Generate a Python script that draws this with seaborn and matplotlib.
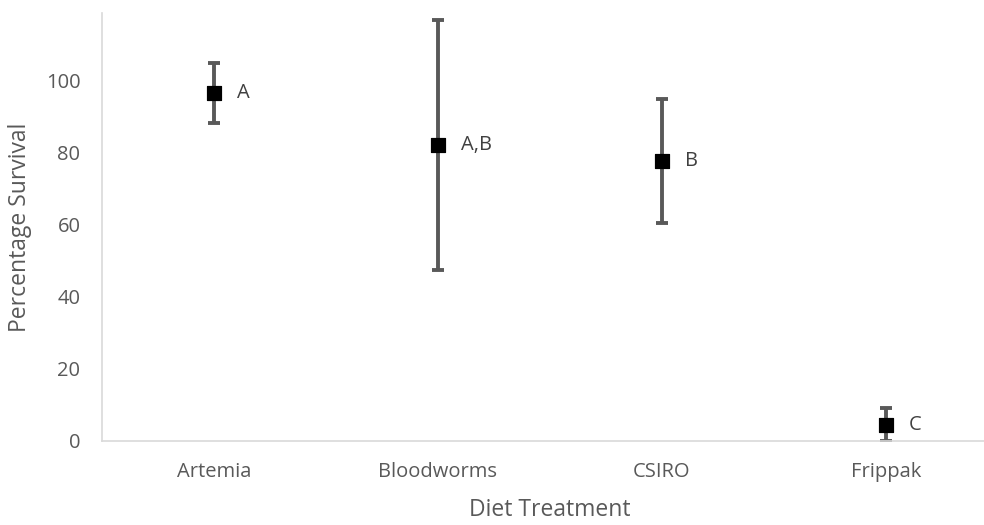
import matplotlib
matplotlib.use("Agg")
import matplotlib.pyplot as plt
import seaborn as sns
import pandas as pd

diets = ["Artemia", "Bloodworms", "CSIRO", "Frippak"]
survival = [96.5, 82.1, 77.6, 4.3]
err_up = [8.3, 34.6, 17.2, 4.9]
err_down = [8.3, 34.6, 17.2, 4.3]
letters = ["A", "A,B", "B", "C"]
y_ticks = [0, 20, 40, 60, 80, 100]

df = pd.DataFrame({"Diet": diets, "Survival": survival})

sns.set_theme(style="white")
plt.rcParams["font.family"] = ["Open Sans", "DejaVu Sans"]

fig = plt.figure(figsize=(9.84, 5.25), dpi=100)
ax = fig.add_axes([102 / 984, 1 - 441 / 525, 896 / 984, 428 / 525])

ax.errorbar(diets, survival, yerr=[err_down, err_up], fmt="none",
            ecolor="#595959", elinewidth=2.8, capsize=4.6, capthick=2.8, zorder=2)
sns.scatterplot(data=df, x="Diet", y="Survival", marker="s", s=115,
                color="black", edgecolor="black", ax=ax, zorder=3, legend=False)

for d, v, lab in zip(diets, survival, letters):
    ax.annotate(lab, (d, v), xytext=(16.5, 0), textcoords="offset points",
                ha="left", va="center", fontsize=14.5, color="#404040")

ax.set_xlim(-0.5, 3.5)
ax.set_ylim(0, 118.6)
ax.set_yticks(y_ticks)
ax.tick_params(axis="both", length=0, labelsize=14.5, colors="#595959")
ax.tick_params(axis="y", pad=15.5)
ax.tick_params(axis="x", pad=15)
for s in ["top", "right"]:
    ax.spines[s].set_visible(False)
for s in ["left", "bottom"]:
    ax.spines[s].set_color("#d9d9d9")
    ax.spines[s].set_linewidth(1.2)
ax.set_xlabel("Diet Treatment", fontsize=16.5, color="#595959", labelpad=12)
ax.set_ylabel("Percentage Survival", fontsize=16.5, color="#595959", labelpad=10)

fig.savefig("out.png", dpi=100)
